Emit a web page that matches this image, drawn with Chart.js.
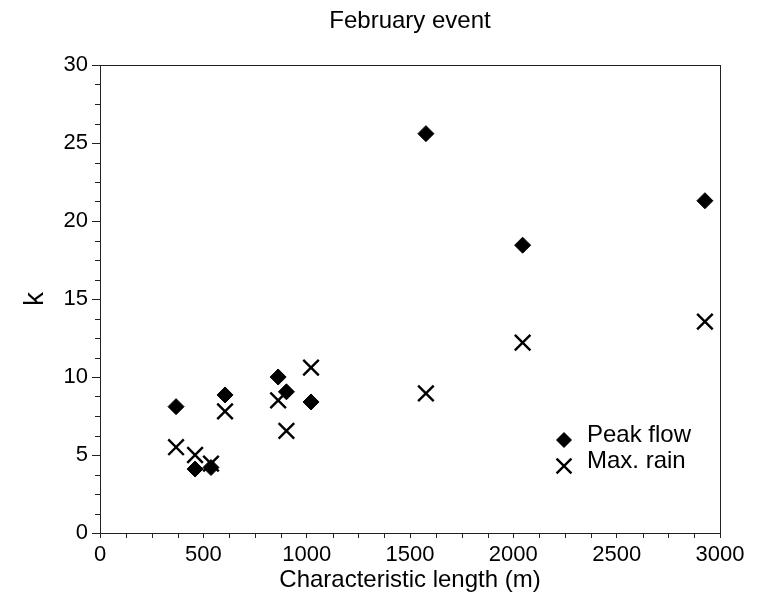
<!DOCTYPE html>
<html>
<head>
<meta charset="utf-8">
<title>February event</title>
<script src="https://cdn.jsdelivr.net/npm/chart.js@4/dist/chart.umd.min.js"></script>
<style>
    body { margin: 0; background: #fff; }
    canvas { display: block; }
</style>
</head>
<body>
<canvas id="chartK" width="769" height="604"></canvas>
<script>
/* ---------------- DATA ---------------- */
const lengths   = [368, 460, 537, 605, 862, 902, 1021, 1577, 2045, 2927];
const peakFlow  = [8.1, 4.1, 4.2, 8.85, 10.0, 9.05, 8.4, 25.6, 18.45, 21.3];
const maxRain   = [5.5, 5.0, 4.45, 7.8, 8.5, 6.55, 10.6, 8.95, 12.2, 13.55];
const seriesNames = ["Peak flow", "Max. rain"];
const xTicks = [0, 500, 1000, 1500, 2000, 2500, 3000];
const yTicks = [0, 5, 10, 15, 20, 25, 30];
const chartTitle = "February event";

const FONT = "'Liberation Sans', Arial, sans-serif";

/* ---------------- TITLE, FRAME, MINOR TICKS, LEGEND ---------------- */
const framePlugin = {
    id: "frame",
    afterDraw(chart) {
        const ctx = chart.ctx;
        const a = chart.chartArea;
        const xs = chart.scales.x, ys = chart.scales.y;
        ctx.save();

        // title, centred over the plot box
        ctx.fillStyle = "#000";
        ctx.font = "24px " + FONT;
        ctx.textAlign = "center";
        ctx.textBaseline = "middle";
        ctx.fillText(chartTitle, (a.left + a.right) / 2, 21);

        ctx.strokeStyle = "#222";
        ctx.lineWidth = 1;
        ctx.strokeRect(a.left + 0.5, a.top + 0.5, a.right - a.left, a.bottom - a.top);

        // minor ticks
        ctx.beginPath();
        for (let v = 0; v <= 30; v += 1.25) {
            if (v % 5 === 0) continue;
            const p = Math.round(ys.getPixelForValue(v)) + 0.5;
            ctx.moveTo(a.left - 5, p);
            ctx.lineTo(a.left, p);
        }
        for (let v = 0; v <= 3000; v += 125) {
            if (v % 500 === 0) continue;
            const p = Math.round(xs.getPixelForValue(v)) + 0.5;
            ctx.moveTo(p, a.bottom);
            ctx.lineTo(p, a.bottom + 5);
        }
        ctx.stroke();

        // legend
        const lx = a.left + 464, ly = a.top + 375;
        chart.data.datasets.forEach((ds, i) => {
            const y = ly + i * 26;
            ctx.fillStyle = "#000";
            ctx.strokeStyle = "#000";
            ctx.lineWidth = ds.pointBorderWidth;
            Chart.helpers.drawPoint(ctx, {
                pointStyle: ds.pointStyle,
                radius: i === 0 ? 7.5 : 10.5,
                borderWidth: ds.pointBorderWidth,
                rotation: 0
            }, lx, y);
            ctx.fillStyle = "#000";
            ctx.font = "24px " + FONT;
            ctx.textAlign = "left";
            ctx.textBaseline = "middle";
            ctx.fillText(ds.label, lx + 23, y - 5);
        });
        ctx.restore();
    }
};

/* ---------------- CHART ---------------- */
new Chart(document.getElementById("chartK"), {
    type: "scatter",
    data: {
        datasets: [
            {
                label: seriesNames[0],
                data: lengths.map((x, i) => ({ x: x, y: peakFlow[i] })),
                pointStyle: "rectRot",
                pointRadius: 8,
                pointBorderWidth: 1,
                backgroundColor: "#000",
                borderColor: "#000"
            },
            {
                label: seriesNames[1],
                data: lengths.map((x, i) => ({ x: x, y: maxRain[i] })),
                pointStyle: "crossRot",
                pointRadius: 11,
                pointBorderWidth: 2.4,
                backgroundColor: "#000",
                borderColor: "#000"
            }
        ]
    },
    options: {
        responsive: false,
        animation: false,
        layout: { padding: { top: 65, right: 49, bottom: 0, left: 0 } },
        plugins: {
            legend: { display: false },
            tooltip: { enabled: false },
            title: { display: false }
        },
        scales: {
            x: {
                type: "linear",
                min: 0,
                max: 3000,
                afterBuildTicks: s => { s.ticks = xTicks.map(v => ({ value: v })); },
                afterFit: s => { s.height = 71; },
                grid: { drawOnChartArea: false, color: "#222", tickLength: 5 },
                border: { color: "#222", width: 1 },
                ticks: {
                    color: "#000",
                    padding: 4,
                    font: { family: FONT, size: 22 },
                    callback: v => String(v)
                },
                title: {
                    display: true,
                    text: "Characteristic length (m)",
                    color: "#000",
                    font: { family: FONT, size: 24 },
                    padding: { top: 0, bottom: 9 }
                }
            },
            y: {
                type: "linear",
                min: 0,
                max: 30,
                afterBuildTicks: s => { s.ticks = yTicks.map(v => ({ value: v })); },
                afterFit: s => { s.width = 100; },
                grid: { drawOnChartArea: false, color: "#222", tickLength: 8 },
                border: { color: "#222", width: 1 },
                ticks: {
                    color: "#000",
                    padding: 4,
                    font: { family: FONT, size: 22 },
                    callback: v => String(v)
                },
                title: {
                    display: true,
                    text: "k",
                    color: "#000",
                    font: { family: FONT, size: 28 },
                    padding: { top: 18, bottom: 0 }
                }
            }
        }
    },
    plugins: [framePlugin]
});
</script>
</body>
</html>
